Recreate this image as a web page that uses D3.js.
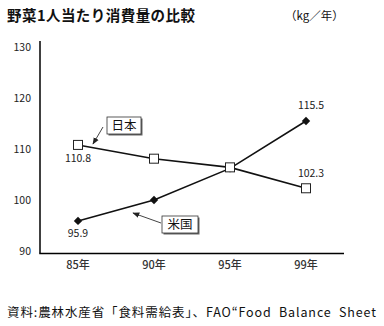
<!DOCTYPE html>
<html><head><meta charset="utf-8">
<script src="https://cdn.jsdelivr.net/npm/d3@7"></script>
<style>body{margin:0;background:#fff}svg{display:block}</style>
</head><body>
<script>
// Per-capita vegetable consumption (kg / year)
const years = ["85年", "90年", "95年", "99年"];
const japan = [110.8, 108.1, 106.4, 102.3];
const usa = [95.9, 100.0, 106.2, 115.5];
const yTicks = [90, 100, 110, 120, 130];

const W = 384, H = 326;
const font = "'Noto Sans CJK JP', 'Noto Sans', sans-serif";
const svg = d3.select("body").append("svg").attr("width", W).attr("height", H)
  .style("font-family", font);

const x = d3.scaleBand().domain(years).range([40, 344]);
const cx = d => x(d) + x.bandwidth() / 2;
const y = d3.scaleLinear().domain([90, 130]).range([251, 47]);

// Title and unit
svg.append("text").attr("x", 7).attr("y", 21).attr("font-size", 14.5).attr("font-weight", 600)
  .attr("fill", "#111").attr("textLength", 188).text("野菜1人当たり消費量の比較");
svg.append("text").attr("x", 285).attr("y", 20).attr("font-size", 11.5)
  .attr("fill", "#111").text("（kg／年）");

// Axes
const yAxis = d3.axisLeft(y).tickValues(yTicks).tickSize(0).tickPadding(9);
const gy = svg.append("g").attr("transform", "translate(40,0)").call(yAxis);
gy.select(".domain").remove();
gy.selectAll("text").attr("font-size", 10.5).attr("fill", "#222").style("font-family", font);
svg.append("line").attr("x1", 40).attr("x2", 40).attr("y1", 41).attr("y2", y(90) + 2.5)
  .attr("stroke", "#000").attr("stroke-width", 1.5);

const xAxis = d3.axisBottom(x).tickSize(0).tickPadding(8);
const gx = svg.append("g").attr("transform", `translate(0,${y(90) + 2.5})`).call(xAxis);
gx.select(".domain").attr("stroke", "#000").attr("stroke-width", 1.5).attr("d", `M39.3,0H344`);
gx.selectAll("text").attr("font-size", 11).attr("font-weight", 500).attr("fill", "#333").style("font-family", font);

// Lines
const line = d3.line().x((d, i) => cx(years[i])).y(d => y(d));
[usa, japan].forEach(s => svg.append("path").datum(s).attr("d", line)
  .attr("fill", "none").attr("stroke", "#111").attr("stroke-width", 1.6));

// Markers: USA filled diamonds, Japan open squares
svg.selectAll(".usa").data(usa).join("path")
  .attr("transform", (d, i) => `translate(${cx(years[i])},${y(d)})`)
  .attr("d", d3.symbol(d3.symbolDiamond2, 45)).attr("fill", "#111");
svg.selectAll(".jp").data(japan).join("rect")
  .attr("x", (d, i) => cx(years[i]) - 4.5).attr("y", d => y(d) - 4.5)
  .attr("width", 9).attr("height", 9).attr("fill", "#fff").attr("stroke", "#222").attr("stroke-width", 1);

// Value labels
const lbl = (t, px, py) => svg.append("text").attr("x", px).attr("y", py).attr("text-anchor", "middle")
  .attr("font-size", 10.5).attr("fill", "#222").text(t);
lbl(japan[0].toFixed(1), cx(years[0]), y(japan[0]) + 17);
lbl(usa[0].toFixed(1), cx(years[0]), y(usa[0]) + 16);
lbl(usa[3].toFixed(1), cx(years[3]) + 5, y(usa[3]) - 12);
lbl(japan[3].toFixed(1), cx(years[3]) + 5, y(japan[3]) - 11);

// Callout boxes with arrows
const defs = svg.append("defs");
defs.append("marker").attr("id", "ah").attr("viewBox", "0 0 10 10").attr("refX", 9).attr("refY", 5)
  .attr("markerWidth", 7).attr("markerHeight", 7).attr("orient", "auto")
  .append("path").attr("d", "M0,1L10,5L0,9z").attr("fill", "#222");

function callout(t, bx, by, bw, bh, ax1, ay1, ax2, ay2) {
  svg.append("line").attr("x1", ax1).attr("y1", ay1).attr("x2", ax2).attr("y2", ay2)
    .attr("stroke", "#444").attr("stroke-width", 1).attr("marker-end", "url(#ah)");
  svg.append("rect").attr("x", bx + 1.5).attr("y", by + 1.5).attr("width", bw).attr("height", bh).attr("fill", "#666");
  svg.append("rect").attr("x", bx).attr("y", by).attr("width", bw).attr("height", bh)
    .attr("fill", "#fff").attr("stroke", "#333").attr("stroke-width", 0.8);
  svg.append("text").attr("x", bx + bw / 2).attr("y", by + bh / 2 + 4.5).attr("text-anchor", "middle")
    .attr("font-size", 12.5).attr("fill", "#111").text(t);
}
callout("日本", 107, 117, 34, 17, 103, 127, 93, 144);
callout("米国", 162, 216, 36, 17, 161, 223, 133, 213);

// Source note
svg.append("text").attr("x", 7).attr("y", 317).attr("font-size", 12.5).attr("fill", "#111")
  .attr("textLength", 369).attr("lengthAdjust", "spacing")
  .style("white-space", "pre")
  .text("資料:農林水産省「食料需給表」、FAO“Food  Balance  Sheet");
</script>
</body></html>
